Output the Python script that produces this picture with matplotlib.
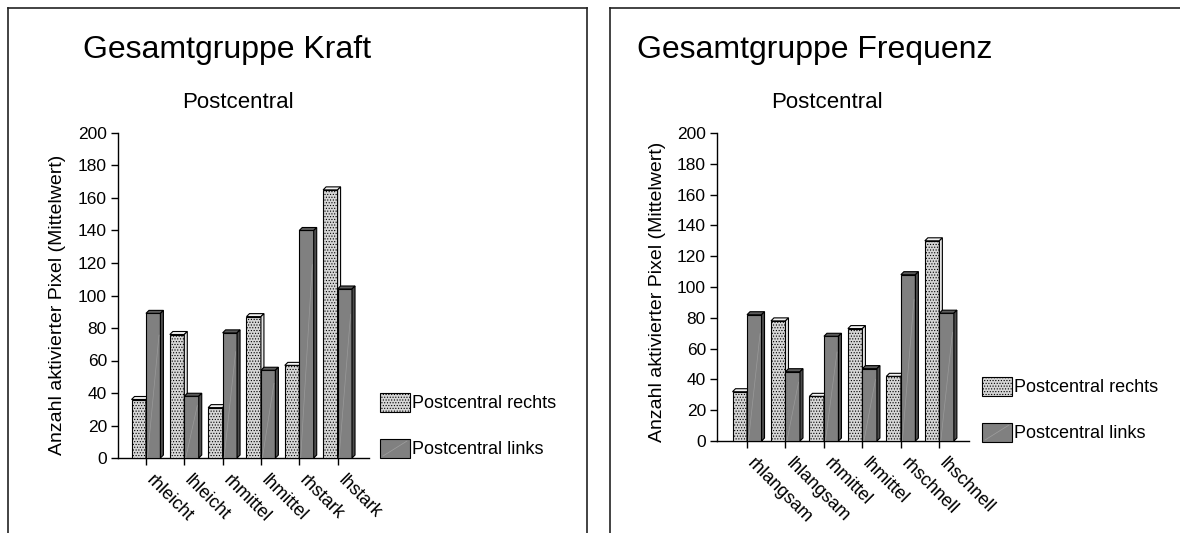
import matplotlib
matplotlib.use('Agg')
import matplotlib.pyplot as plt
from matplotlib.patches import Polygon, Rectangle
from matplotlib.lines import Line2D
from matplotlib.transforms import ScaledTranslation
import numpy as np

plt.rcParams['font.family'] = ['Liberation Sans', 'DejaVu Sans']
plt.rcParams['hatch.color'] = '#bdbdbd'
plt.rcParams['hatch.linewidth'] = 0.5

# ---- data ----
kraft_categories = ['rhleicht', 'lhleicht', 'rhmittel', 'lhmittel', 'rhstark', 'lhstark']
kraft_rechts = [36, 76, 31, 87, 57, 165]
kraft_links = [89, 38, 77, 54, 140, 104]

freq_categories = ['rhlangsam', 'lhlangsam', 'rhmittel', 'lhmittel', 'rhschnell', 'lhschnell']
freq_rechts = [32, 78, 29, 73, 42, 130]
freq_links = [82, 45, 68, 47, 108, 83]

series_labels = ['Postcentral rechts', 'Postcentral links']
y_ticks = [0, 20, 40, 60, 80, 100, 120, 140, 160, 180, 200]
y_label = 'Anzahl aktivierter Pixel (Mittelwert)'
subtitle = 'Postcentral'
titles = ['Gesamtgruppe Kraft', 'Gesamtgruppe Frequenz']

W, H = 1180, 533
fig = plt.figure(figsize=(W / 100, H / 100), dpi=100)

LIGHT = dict(face='#d6d6d6', top='#f2f2f2', side='#e4e4e4', hatch='......')
DARK = dict(face='#808080', top='#5c5c5c', side='#4c4c4c', hatch=None)
BW = 0.377
D = np.array([3.0, 3.0])


def fx(px):
    return px / W


def fy(py):
    return 1 - py / H


def draw_series(ax, values, first, style, z):
    x = np.arange(len(values))
    left = x - BW if first else x
    bars = ax.bar(left, values, width=BW, align='edge', facecolor=style['face'],
                  edgecolor='black', linewidth=0.8, hatch=style['hatch'], zorder=z)
    inv = ax.transData.inverted()
    for xl, v in zip(left, values):
        bl, br, tr, tl = ax.transData.transform([(xl, 0), (xl + BW, 0), (xl + BW, v), (xl, v)])
        top = inv.transform([tl, tr, tr + D, tl + D])
        side = inv.transform([br, br + D, tr + D, tr])
        ax.add_patch(Polygon(top, closed=True, facecolor=style['top'], edgecolor='black',
                             linewidth=0.8, zorder=z, clip_on=False))
        ax.add_patch(Polygon(side, closed=True, facecolor=style['side'], edgecolor='black',
                             linewidth=0.8, zorder=z, clip_on=False))
        if not first:
            ax.plot([xl + BW * 0.1, xl + BW * 0.9], [0, v * 0.85], color='#9a9a9a',
                    linewidth=0.5, zorder=z + 0.1)
    return bars


def make_chart(rect, cats, rechts, links, xlim, ylab_pos, title_pos, sub_pos, leg_pos):
    l, r, t, b = rect
    ax = fig.add_axes([fx(l), fy(b), fx(r) - fx(l), fy(t) - fy(b)])
    ax.set_xlim(*xlim)
    ax.set_ylim(0, 200)
    for s in ['top', 'right']:
        ax.spines[s].set_visible(False)
    ax.spines['left'].set_linewidth(1.0)
    ax.spines['bottom'].set_linewidth(1.0)
    ax.set_yticks(y_ticks)
    ax.tick_params(axis='y', labelsize=12.5, length=5, width=1, direction='out', pad=3)
    ax.set_xticks(np.arange(len(cats)))
    ax.set_xticklabels(cats, rotation=-45, ha='left', va='top', rotation_mode='anchor',
                       fontsize=13)
    ax.tick_params(axis='x', length=5, width=1, direction='out', pad=5)
    shift = ScaledTranslation(9 / 100, 0, fig.dpi_scale_trans)
    for lab in ax.get_xticklabels():
        lab.set_transform(lab.get_transform() + shift)
    ax.patch.set_alpha(0)
    draw_series(ax, rechts, True, LIGHT, 3)
    draw_series(ax, links, False, DARK, 4)

    fig.text(fx(ylab_pos[0]), fy(ylab_pos[1]), y_label, rotation=90, ha='center',
             va='center', fontsize=14)
    fig.text(fx(title_pos[0]), fy(title_pos[1]), title_pos[2], ha='center', va='center',
             fontsize=23)
    fig.text(fx(sub_pos[0]), fy(sub_pos[1]), subtitle, ha='center', va='center', fontsize=16)

    styles = [LIGHT, DARK]
    for k, (lab, st) in enumerate(zip(series_labels, styles)):
        sx, sy = leg_pos[0], leg_pos[1] + k * 46
        fig.add_artist(Rectangle((fx(sx), fy(sy + 19)), fx(30), 19 / H, transform=fig.transFigure,
                                 facecolor=st['face'], edgecolor='black', linewidth=0.8,
                                 hatch=st['hatch']))
        if st['hatch'] is None:
            fig.add_artist(Line2D([fx(sx + 3), fx(sx + 27)], [fy(sy + 17), fy(sy + 2)],
                                  color='#a0a0a0', linewidth=0.5))
        fig.text(fx(sx + 32), fy(sy + 10), lab, ha='left', va='center', fontsize=13)
    return ax


make_chart((118, 369, 133, 458), kraft_categories, kraft_rechts, kraft_links,
           (-0.73, 5.82), (58, 305), (227, 50, titles[0]), (238, 102), (380, 393))
make_chart((717, 969, 133, 441), freq_categories, freq_rechts, freq_links,
           (-0.78, 5.77), (658, 292), (815, 50, titles[1]), (827, 102), (982, 377))

# panel frames
for xs, ys in [([8, 8], [8, H]), ([8, 587], [8, 8]), ([587, 587], [8, H]),
               ([610, 610], [8, H]), ([610, W], [8, 8])]:
    fig.add_artist(Line2D([fx(v) for v in xs], [fy(v) for v in ys], color='#222222',
                          linewidth=1.2))

fig.savefig('out.png', dpi=100)
